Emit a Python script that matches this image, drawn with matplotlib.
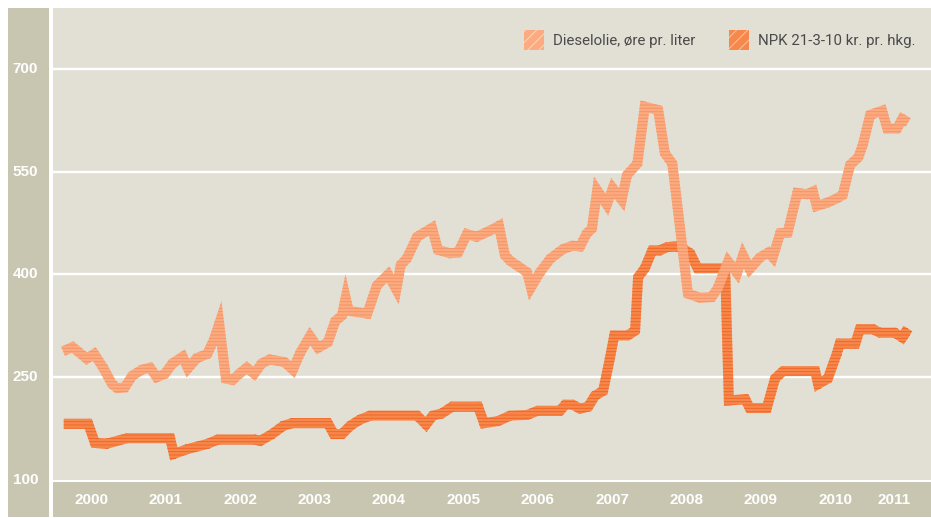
import numpy as np
import matplotlib
matplotlib.use("Agg")
import matplotlib.pyplot as plt
from matplotlib.path import Path
from matplotlib.patches import PathPatch, Rectangle
from matplotlib.transforms import blended_transform_factory

plt.rcParams["hatch.linewidth"] = 0.7

# ---------------- data ----------------
diesel_t = [2000.00, 2000.13, 2000.32, 2000.42, 2000.54, 2000.66, 2000.73, 2000.83, 2000.93,
            2001.06, 2001.17, 2001.26, 2001.37, 2001.47, 2001.61, 2001.68, 2001.80, 2001.94,
            2002.03, 2002.10, 2002.19, 2002.28, 2002.38, 2002.47, 2002.57, 2002.67, 2002.78,
            2002.98, 2003.09, 2003.19, 2003.32, 2003.43, 2003.56, 2003.66, 2003.75, 2003.80,
            2003.84, 2003.95, 2004.09, 2004.22, 2004.37, 2004.48, 2004.54, 2004.62, 2004.76,
            2004.96, 2005.04, 2005.20, 2005.31, 2005.43, 2005.56, 2005.74, 2005.86, 2005.94,
            2006.01, 2006.12, 2006.24, 2006.29, 2006.41, 2006.55, 2006.72, 2006.85, 2006.95,
            2007.04, 2007.11, 2007.18, 2007.31, 2007.39, 2007.51, 2007.58, 2007.72, 2007.82,
            2008.00, 2008.09, 2008.19, 2008.40, 2008.56, 2008.72, 2008.80, 2008.94, 2009.06,
            2009.14, 2009.23, 2009.37, 2009.48, 2009.54, 2009.64, 2009.74, 2009.87, 2010.00,
            2010.08, 2010.13, 2010.28, 2010.40, 2010.48, 2010.58, 2010.69, 2010.75, 2010.85,
            2011.01, 2011.08, 2011.21, 2011.28, 2011.36]
diesel_v = [288, 294, 277, 284, 264, 240, 234, 235, 252,
            261, 264, 250, 255, 270, 280, 263, 278, 284,
            305, 328, 248, 246, 256, 264, 255, 270, 276,
            272, 261, 286, 310, 293, 301, 332, 340, 366,
            347, 345, 343, 384, 400, 378, 414, 423, 455,
            468, 436, 431, 432, 459, 455, 464, 471, 428,
            420, 412, 403, 381, 403, 423, 437, 442, 441,
            460, 467, 523, 502, 526, 509, 545, 562, 645,
            640, 577, 562, 372, 366, 367, 380, 419, 402,
            428, 408, 425, 432, 425, 460, 461, 519, 517,
            521, 500, 505, 511, 516, 560, 571, 589, 633,
            639, 613, 613, 627, 622]

npk_t = [2000.01, 2000.34, 2000.43, 2000.59, 2000.86, 2001.44, 2001.49, 2001.67, 2001.95,
         2002.08, 2002.58, 2002.65, 2002.81, 2002.96, 2003.08, 2003.56, 2003.64, 2003.75,
         2003.86, 2003.99, 2004.13, 2004.76, 2004.88, 2004.97, 2005.09, 2005.23, 2005.58,
         2005.66, 2005.85, 2006.01, 2006.24, 2006.38, 2006.68, 2006.75, 2006.85, 2006.95,
         2007.06, 2007.15, 2007.26, 2007.35, 2007.41, 2007.59, 2007.69, 2007.73, 2007.82,
         2007.92, 2008.02, 2008.12, 2008.25, 2008.33, 2008.43, 2008.53, 2008.90, 2008.95,
         2009.17, 2009.23, 2009.46, 2009.57, 2009.68, 2010.11, 2010.15, 2010.28, 2010.40,
         2010.44, 2010.65, 2010.71, 2010.89, 2010.98, 2011.18, 2011.28, 2011.32, 2011.38]
npk_v = [182, 182, 154, 153, 161, 161, 138, 145, 153,
         159, 159, 157, 167, 179, 183, 183, 167, 167,
         179, 188, 194, 194, 181, 194, 197, 207, 207,
         183, 186, 194, 195, 201, 201, 210, 210, 204,
         207, 223, 230, 277, 311, 311, 318, 396, 409,
         435, 435, 440, 441, 438, 431, 409, 409, 216,
         218, 205, 205, 248, 259, 259, 240, 248, 284,
         299, 299, 320, 320, 315, 315, 308, 315, 311]

years = [2000, 2001, 2002, 2003, 2004, 2005, 2006, 2007, 2008, 2009, 2010, 2011]
yticks = [100, 250, 400, 550, 700]
series_labels = ["Dieselolie, øre pr. liter", "NPK 21-3-10 kr. pr. hkg."]

# ---------------- style ----------------
W, H, DPI = 931, 518, 100
BG = "#e2e0d5"
STRIP = "#c8c5b1"
DIESEL_FACE, DIESEL_STRIPE = "#fbab7f", "#f39468"
NPK_FACE, NPK_STRIPE = "#f7884c", "#ef6526"
BAND_PX = 10.0

fig = plt.figure(figsize=(W / DPI, H / DPI), dpi=DPI, facecolor="white")


def px_rect(x0, y0, x1, y1):
    return [x0 / W, 1 - y1 / H, (x1 - x0) / W, (y1 - y0) / H]


ax = fig.add_axes(px_rect(53, 8, 931, 480))
ax.set_facecolor(BG)
ax.set_xlim(1999.866, 2011.667)
ax.set_ylim(100, 789)
for s in ax.spines.values():
    s.set_visible(False)
ax.set_xticks([])
ax.set_yticks([])
for v in yticks[1:]:
    ax.axhline(v, color="white", lw=1.7, zorder=1)

# side / bottom strips
x0, y0, w0, h0 = px_rect(8, 8, 49, 517)
fig.patches.append(Rectangle((x0, y0), w0, h0, transform=fig.transFigure,
                             facecolor=STRIP, edgecolor="none", zorder=0))
x0, y0, w0, h0 = px_rect(53, 482, 931, 517)
fig.patches.append(Rectangle((x0, y0), w0, h0, transform=fig.transFigure,
                             facecolor=STRIP, edgecolor="none", zorder=0))


def stroke_path(xs, ys, width_px, miter_limit=6.0):
    P = ax.transData.transform(np.column_stack([xs, ys]))
    w = width_px / 2.0
    verts, codes = [], []

    def add_poly(pts):
        pts = np.asarray(pts, dtype=float)
        x, y = pts[:, 0], pts[:, 1]
        area = 0.5 * np.sum(x * np.roll(y, -1) - np.roll(x, -1) * y)
        if area < 0:
            pts = pts[::-1]
        verts.extend(pts.tolist())
        verts.append(pts[0].tolist())
        codes.extend([Path.MOVETO] + [Path.LINETO] * (len(pts) - 1) + [Path.CLOSEPOLY])

    n = len(P)
    D = np.diff(P, axis=0)
    L = np.hypot(D[:, 0], D[:, 1])
    U = D / L[:, None]
    N = np.column_stack([-U[:, 1], U[:, 0]])
    for i in range(n - 1):
        a, b = P[i], P[i + 1]
        ea = 0.0 if i == 0 else 0.5
        eb = 0.0 if i == n - 2 else 0.5
        a2 = a - U[i] * ea
        b2 = b + U[i] * eb
        add_poly([a2 - N[i] * w, b2 - N[i] * w, b2 + N[i] * w, a2 + N[i] * w])
    for i in range(1, n - 1):
        u1, u2 = U[i - 1], U[i]
        cross = u1[0] * u2[1] - u1[1] * u2[0]
        if abs(cross) < 1e-9:
            continue
        o1 = -N[i - 1] if cross > 0 else N[i - 1]
        o2 = -N[i] if cross > 0 else N[i]
        bis = o1 + o2
        bl = np.hypot(*bis)
        if bl < 1e-9:
            continue
        bis = bis / bl
        m_len = w / max(np.dot(bis, o1), 1e-9)
        m_len = min(m_len, miter_limit * w)
        p = P[i]
        add_poly([p, p + o1 * w, p + bis * m_len, p + o2 * w])
    data = ax.transData.inverted().transform(np.array(verts))
    return Path(data, codes)


ax.add_patch(PathPatch(stroke_path(npk_t, npk_v, BAND_PX), facecolor=NPK_FACE,
                       edgecolor=NPK_STRIPE, hatch="-----", lw=0, zorder=3))
ax.add_patch(PathPatch(stroke_path(diesel_t, diesel_v, BAND_PX), facecolor=DIESEL_FACE,
                       edgecolor=DIESEL_STRIPE, hatch="-----", lw=0, zorder=4))

# y tick labels in left strip
tr_y = blended_transform_factory(fig.transFigure, ax.transData)
for v in yticks:
    fig.text(25.5 / W, v, str(v), transform=tr_y, ha="center", va="center",
             color="white", fontsize=11, fontweight="bold",
             family=["Liberation Sans", "DejaVu Sans"])

# year labels in bottom strip
tr_x = blended_transform_factory(ax.transData, fig.transFigure)
for yr in years:
    pos = yr + 0.38 if yr != years[-1] else yr + 0.17
    fig.text(pos, 1 - 499.5 / H, str(yr), transform=tr_x, ha="center", va="center",
             color="white", fontsize=11, fontweight="bold",
             family=["Liberation Sans", "DejaVu Sans"])

# legend
leg_items = [(524, DIESEL_FACE, "#fdd6c0", series_labels[0]),
             (729, NPK_FACE, "#fcc3a3", series_labels[1])]
for xp, face, hcol, lab in leg_items:
    rx, ry, rw, rh = px_rect(xp, 30, xp + 20, 50)
    fig.patches.append(Rectangle((rx, ry), rw, rh, transform=fig.transFigure,
                                 facecolor=face, edgecolor=hcol, hatch="///",
                                 lw=0, zorder=5))
    fig.text((xp + 29) / W, 1 - 40.5 / H, lab, ha="left", va="center",
             color="#4a4a4a", fontsize=10.8,
             family=["Roboto", "DejaVu Sans"], zorder=6)

fig.savefig("out.png", dpi=DPI, facecolor="white")
